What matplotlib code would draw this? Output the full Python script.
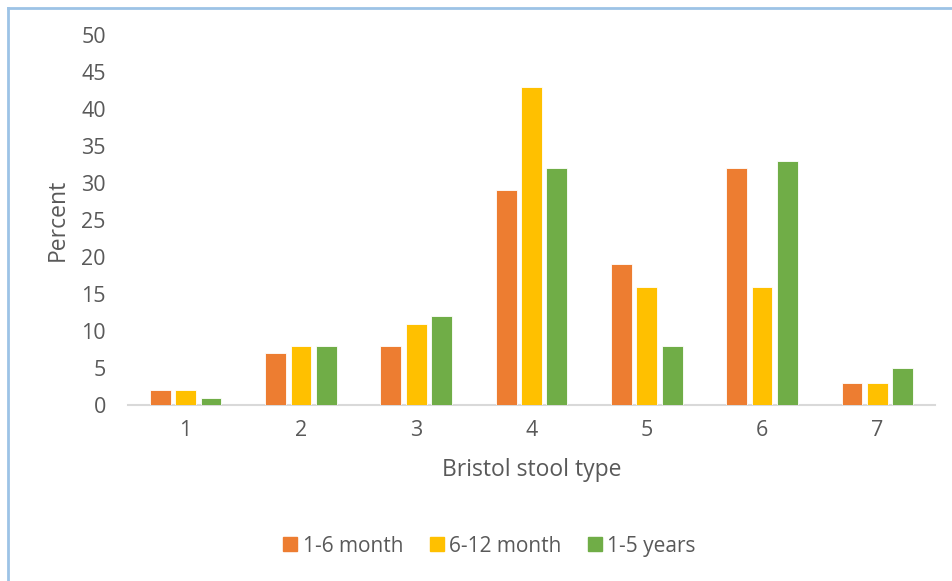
import numpy as np
import matplotlib
matplotlib.use("Agg")
import matplotlib.pyplot as plt
from matplotlib.lines import Line2D

plt.rcParams['font.family'] = ['Open Sans', 'DejaVu Sans']

# Bristol stool type vs percent, by age group
stool_types = ['1', '2', '3', '4', '5', '6', '7']
m1_6 = [2, 7, 8, 29, 19, 32, 3]
m6_12 = [2, 8, 11, 43, 16, 16, 3]
y1_5 = [1, 8, 12, 32, 8, 33, 5]
series_names = ['1-6 month', '6-12 month', '1-5 years']
colors = ['#ED7D31', '#FFC000', '#70AD47']

fig = plt.figure(figsize=(9.53, 5.81), dpi=100)
ax = fig.add_axes([0.1343, 0.3029, 0.8468, 0.6369])

x = np.arange(1, len(stool_types) + 1)
w = 0.18
step = 0.22
for i, (vals, c) in enumerate(zip([m1_6, m6_12, y1_5], colors)):
    ax.bar(x + (i - 1) * step, vals, width=w, color=c, edgecolor='white',
           linewidth=0.6, label=series_names[i], zorder=3)

ax.set_xlim(0.5, 7.5)
ax.set_ylim(0, 50)
ax.set_yticks(range(0, 51, 5))
ax.set_xticks(x)
ax.set_xticklabels(stool_types)

for s in ['top', 'right', 'left']:
    ax.spines[s].set_visible(False)
ax.spines['bottom'].set_color('#d9d9d9')
ax.spines['bottom'].set_linewidth(1.5)
ax.tick_params(axis='both', length=0, colors='#595959', labelsize=15.5)
ax.tick_params(axis='y', pad=16)
ax.tick_params(axis='x', pad=11)

ax.set_ylabel('Percent', fontsize=16.5, color='#595959', labelpad=8)
ax.set_xlabel('Bristol stool type', fontsize=16.5, color='#595959', labelpad=12)

handles = [Line2D([0], [0], marker='s', linestyle='none', markersize=10,
                  markerfacecolor=c, markeredgecolor=c) for c in colors]
fig.legend(handles, series_names, loc='center', bbox_to_anchor=(0.512, 0.06),
           ncol=3, frameon=False, fontsize=15, labelcolor='#595959',
           handletextpad=0.1, columnspacing=1.1, handlelength=1.0)

# blue frame lines along the top and left edges
fig.add_artist(Line2D([0.0085, 1.0], [0.987, 0.987], color='#9DC3E6', lw=2,
                      transform=fig.transFigure))
fig.add_artist(Line2D([0.0085, 0.0085], [0.0, 0.987], color='#9DC3E6', lw=2,
                      transform=fig.transFigure))

fig.savefig('out.png', dpi=100)
